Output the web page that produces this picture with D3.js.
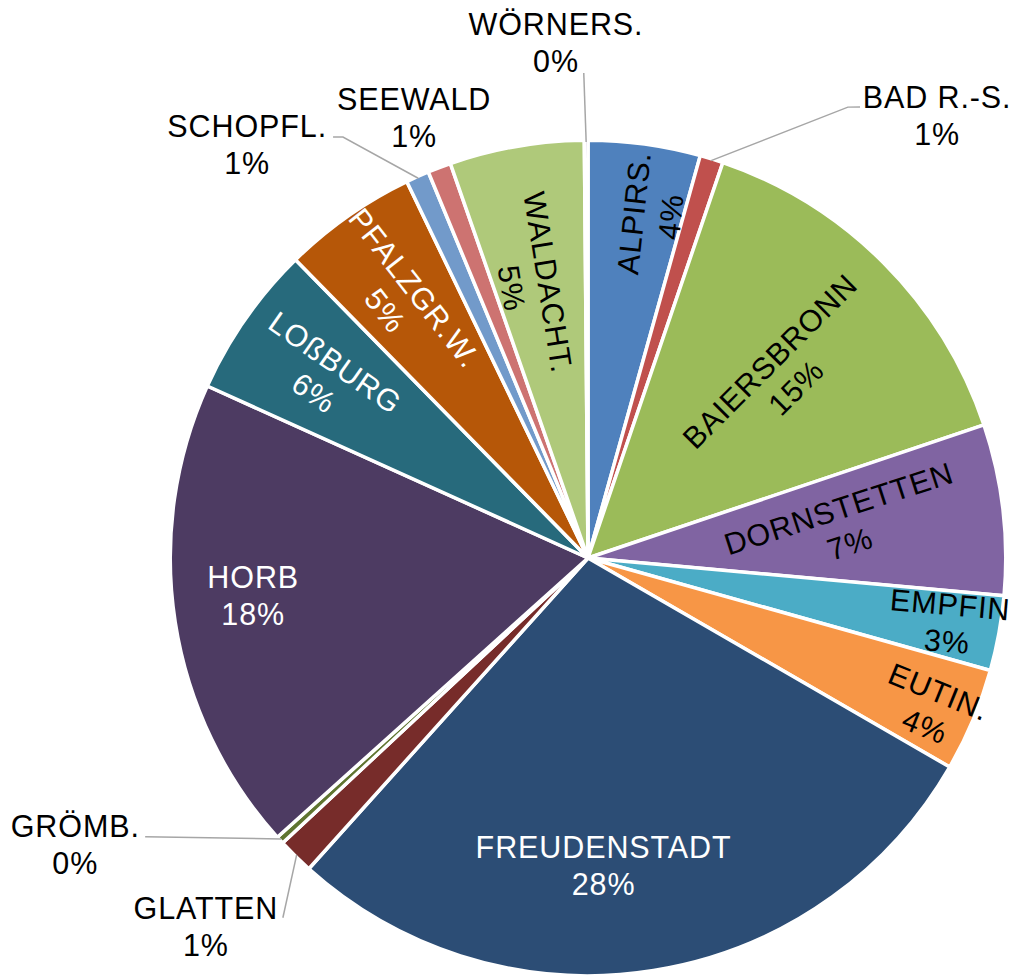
<!DOCTYPE html>
<html><head><meta charset="utf-8">
<script src="https://cdn.jsdelivr.net/npm/d3@7"></script>
<style>
html,body{margin:0;padding:0;background:#fff;}
svg{display:block;}
text{font-family:"Liberation Sans",Arial,sans-serif;font-size:30.5px;letter-spacing:0.9px;}
</style></head><body>
<svg id="chart" width="1011" height="976"></svg>
<script>
// ---- data ----
const categories = ["ALPIRS.", "BAD R.-S.", "BAIERSBRONN", "DORNSTETTEN", "EMPFIN", "EUTIN.",
  "FREUDENSTADT", "GLATTEN", "GRÖMB.", "HORB", "LOßBURG", "PFALZGR.W.", "SCHOPFL.", "SEEWALD",
  "WALDACHT.", "WÖRNERS."];
const shares = [4.33, 0.9, 14.6, 6.6, 2.9, 4.0, 28.3, 1.4, 0.3, 18.4, 5.9, 5.2, 0.9, 0.9, 5.2, 0.14];
const colors = ["#4F81BD", "#C0504D", "#9BBB59", "#8064A2", "#4BACC6", "#F79646",
  "#2C4D75", "#772C2A", "#5F7530", "#4D3B62", "#276A7C", "#B65708", "#729ACA", "#CD7371",
  "#AFC97A", "#9983B5"];
const whiteLabels = ["FREUDENSTADT", "HORB", "LOßBURG", "PFALZGR.W."];

// ---- label layout (polar: angle in degrees clockwise from top, radius as fraction of pie radius) ----
const labelLayout = [
  {a: 10.6, r: 0.839, rot: -84},
  {a: 38.3, r: 1.354, rot: 0, leader: [[31.1, 1.266], [29.96, 1.251]]},
  {a: 46.7, r: 0.644, rot: -45},
  {a: 82.9, r: 0.621, rot: -18},
  {a: 100.2, r: 0.881, rot: 5},
  {a: 113.7, r: 0.903, rot: 22},
  {a: 177.1, r: 0.740, rot: 0},
  {a: 226.0, r: 1.277, rot: 0, leader: [[220.3, 1.134]]},
  {a: 240.8, r: 1.412, rot: 0, leader: [[237.8, 1.258]]},
  {a: 263.5, r: 0.810, rot: 0},
  {a: 304.4, r: 0.767, rot: 35},
  {a: 324.0, r: 0.769, rot: 52},
  {a: 320.5, r: 1.288, rot: 0, leader: [[328.8, 1.183], [329.8, 1.171]]},
  {a: 338.45, r: 1.138, rot: 0},
  {a: 348.0, r: 0.670, rot: 81},
  {a: 356.45, r: 1.242, rot: 0, leader: [[359.5, 1.166]]}
];

const cx = 588, cy = 558, R = 416, strokeW = 3.5;
const lineH = 37, capH = 0.716 * 30;

const svg = d3.select("#chart");
const g = svg.append("g").attr("transform", `translate(${cx},${cy})`);

const data = categories.map((c, i) => ({name: c, value: shares[i], color: colors[i], lay: labelLayout[i]}));
const total = d3.sum(shares);
const pie = d3.pie().sort(null).value(d => d.value);
const arcs = pie(data);
const arc = d3.arc().innerRadius(0).outerRadius(R + strokeW / 2);

const polar = (deg, rf) => {
  const t = deg * Math.PI / 180;
  return [rf * R * Math.sin(t), -rf * R * Math.cos(t)];
};

g.selectAll("path.slice").data(arcs).join("path")
  .attr("class", "slice")
  .attr("d", arc)
  .attr("fill", d => d.data.color)
  .attr("stroke", "#fff")
  .attr("stroke-width", strokeW)
  .attr("stroke-linejoin", "round");

// leader lines
const line = d3.line();
arcs.filter(d => d.data.lay.leader).forEach(d => {
  const mid = (d.startAngle + d.endAngle) / 2 * 180 / Math.PI;
  const pts = d.data.lay.leader.map(p => polar(p[0], p[1]));
  pts.push(polar(mid, 1.0));
  g.append("path").attr("d", line(pts))
    .attr("fill", "none").attr("stroke", "#A6A6A6").attr("stroke-width", 1.5);
});

// labels
const lbl = g.selectAll("g.lbl").data(arcs).join("g")
  .attr("class", "lbl")
  .attr("transform", d => {
    const [x, y] = polar(d.data.lay.a, d.data.lay.r);
    return `translate(${x},${y}) rotate(${d.data.lay.rot})`;
  });
const fillOf = d => (d.data.lay.r < 1 && whiteLabels.includes(d.data.name)) ? "#fff" : "#000";
lbl.append("text").attr("text-anchor", "middle")
  .attr("y", -lineH / 2 + capH / 2)
  .attr("fill", fillOf)
  .text(d => d.data.name);
lbl.append("text").attr("text-anchor", "middle")
  .attr("y", lineH / 2 + capH / 2)
  .attr("fill", fillOf)
  .text(d => Math.round(d.data.value / total * 100) + "%");
</script>
</body></html>
